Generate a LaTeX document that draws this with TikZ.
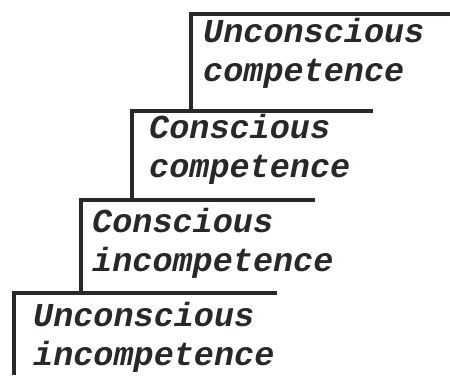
\documentclass[tikz,border=0pt]{standalone}
\usepackage{fontspec}
\setmonofont{Liberation Mono}
\usepackage{xcolor}
\usetikzlibrary{positioning}
\definecolor{stairgray}{RGB}{42,40,38}

\begin{document}
\begin{tikzpicture}[
    x=1pt, y=-1pt,
    stair/.style={line width=4.5pt, draw=stairgray, line join=miter},
    steptext/.style={anchor=base west, inner sep=0pt, align=left, text=stairgray,
                     font=\fontsize{33.5}{39}\selectfont\ttfamily\bfseries\itshape}
]
\useasboundingbox (0,0) rectangle (450,382);

% Corners of the steps
\coordinate (c1) at (14,293);
\coordinate (c2) at (81,200);
\coordinate (c3) at (132,111);
\coordinate (c4) at (191,14);

% Ends of the treads
\coordinate (e1) at (277,293);
\coordinate (e2) at (315,200);
\coordinate (e3) at (373,111);
\coordinate (e4) at (450,14);
\coordinate (foot) at (14,375);

% Stairs
\draw[stair] (foot) -- (c1) -- (e1);
\draw[stair] (c2 |- c1) -- (c2) -- (e2);
\draw[stair] (c3 |- c2) -- (c3) -- (e3);
\draw[stair] (c4 |- c3) -- (c4) -- (e4);

% Labels (anchored on the last line)
\node[steptext] (t1) at (33,365) {Unconscious\\incompetence};
\node[steptext] (t2) at (92,272) {Conscious\\incompetence};
\node[steptext] (t3) at (149,178) {Conscious\\competence};
\node[steptext] (t4) at (203,82) {Unconscious\\competence};

\end{tikzpicture}
\end{document}
